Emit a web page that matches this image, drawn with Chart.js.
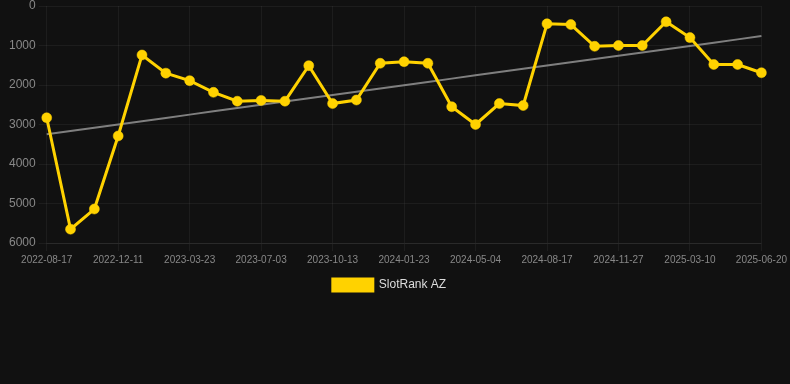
<!DOCTYPE html>
<html>
<head>
<meta charset="utf-8">
<script src="https://cdn.jsdelivr.net/npm/chart.js@4"></script>
<style>
  html, body { margin: 0; padding: 0; background: #111111; }
  #wrap { width: 790px; height: 301px; }
</style>
</head>
<body>
<div id="wrap"><canvas id="rankChart"></canvas></div>
<script>
var dates = [
  "2022-08-17", "2022-09-25", "2022-11-02", "2022-12-11", "2023-01-14", "2023-02-17",
  "2023-03-23", "2023-04-26", "2023-05-30", "2023-07-03", "2023-08-06", "2023-09-09",
  "2023-10-13", "2023-11-16", "2023-12-20", "2024-01-23", "2024-02-26", "2024-03-31",
  "2024-05-04", "2024-06-08", "2024-07-13", "2024-08-17", "2024-09-20", "2024-10-24",
  "2024-11-27", "2024-12-31", "2025-02-04", "2025-03-10", "2025-04-13", "2025-05-17",
  "2025-06-20"
];
var rankValues = [
  2830, 5650, 5140, 3290, 1240, 1700, 1890, 2185, 2410, 2390, 2410, 1510,
  2470, 2380, 1450, 1410, 1450, 2550, 3000, 2470, 2520, 450, 470, 1020,
  1000, 1000, 400, 800, 1480, 1480, 1690
];
var seriesName = "SlotRank AZ";

// least squares trend over the rank values
function trendLine(vals) {
  var n = vals.length, sx = 0, sy = 0, sxy = 0, sxx = 0;
  for (var i = 0; i < n; i++) {
    sx += i; sy += vals[i]; sxy += i * vals[i]; sxx += i * i;
  }
  var slope = (n * sxy - sx * sy) / (n * sxx - sx * sx);
  var icpt = (sy - slope * sx) / n;
  return vals.map(function (v, i) { return icpt + slope * i; });
}

var fontFam = 'Liberation Sans, Arial, sans-serif';

var ctx = document.getElementById("rankChart");
var myChart = new Chart(ctx, {
  type: 'line',
  data: {
    labels: dates,
    datasets: [{
      label: seriesName,
      data: rankValues,
      borderColor: '#FFD200',
      backgroundColor: '#FFD200',
      borderWidth: 3,
      pointRadius: 5,
      pointBorderWidth: 0.5,
      pointHoverRadius: 5,
      tension: 0,
      order: 1
    }, {
      label: 'trend',
      data: trendLine(rankValues),
      borderColor: 'rgba(140,140,140,0.9)',
      borderWidth: 2,
      pointRadius: 0,
      fill: false,
      order: 2
    }]
  },
  options: {
    responsive: true,
    maintainAspectRatio: false,
    animation: false,
    layout: { padding: { left: 6, right: 17, top: 0, bottom: 0 } },
    plugins: {
      legend: {
        position: 'bottom',
        labels: {
          color: '#dddddd',
          font: { family: fontFam, size: 12 },
          boxWidth: 40,
          boxHeight: 12,
          filter: function (item) { return item.text !== 'trend'; }
        }
      },
      tooltip: { enabled: false }
    },
    scales: {
      x: {
        grid: { color: 'rgba(255,255,255,0.05)', tickLength: 8 },
        border: { color: 'rgba(255,255,255,0.06)' },
        ticks: {
          color: '#888888',
          font: { family: fontFam, size: 10 },
          autoSkip: false,
          maxRotation: 0,
          callback: function (val, idx) {
            return idx % 3 === 0 ? this.getLabelForValue(val) : null;
          }
        }
      },
      y: {
        reverse: true,
        min: 0,
        max: 6000,
        grid: { color: 'rgba(255,255,255,0.05)', tickLength: 8 },
        border: { display: false },
        ticks: {
          stepSize: 1000,
          color: '#888888',
          font: { family: fontFam, size: 12, lineHeight: 0.5 },
          callback: function (val) { return String(val); }
        }
      }
    }
  }
});
</script>
</body>
</html>
